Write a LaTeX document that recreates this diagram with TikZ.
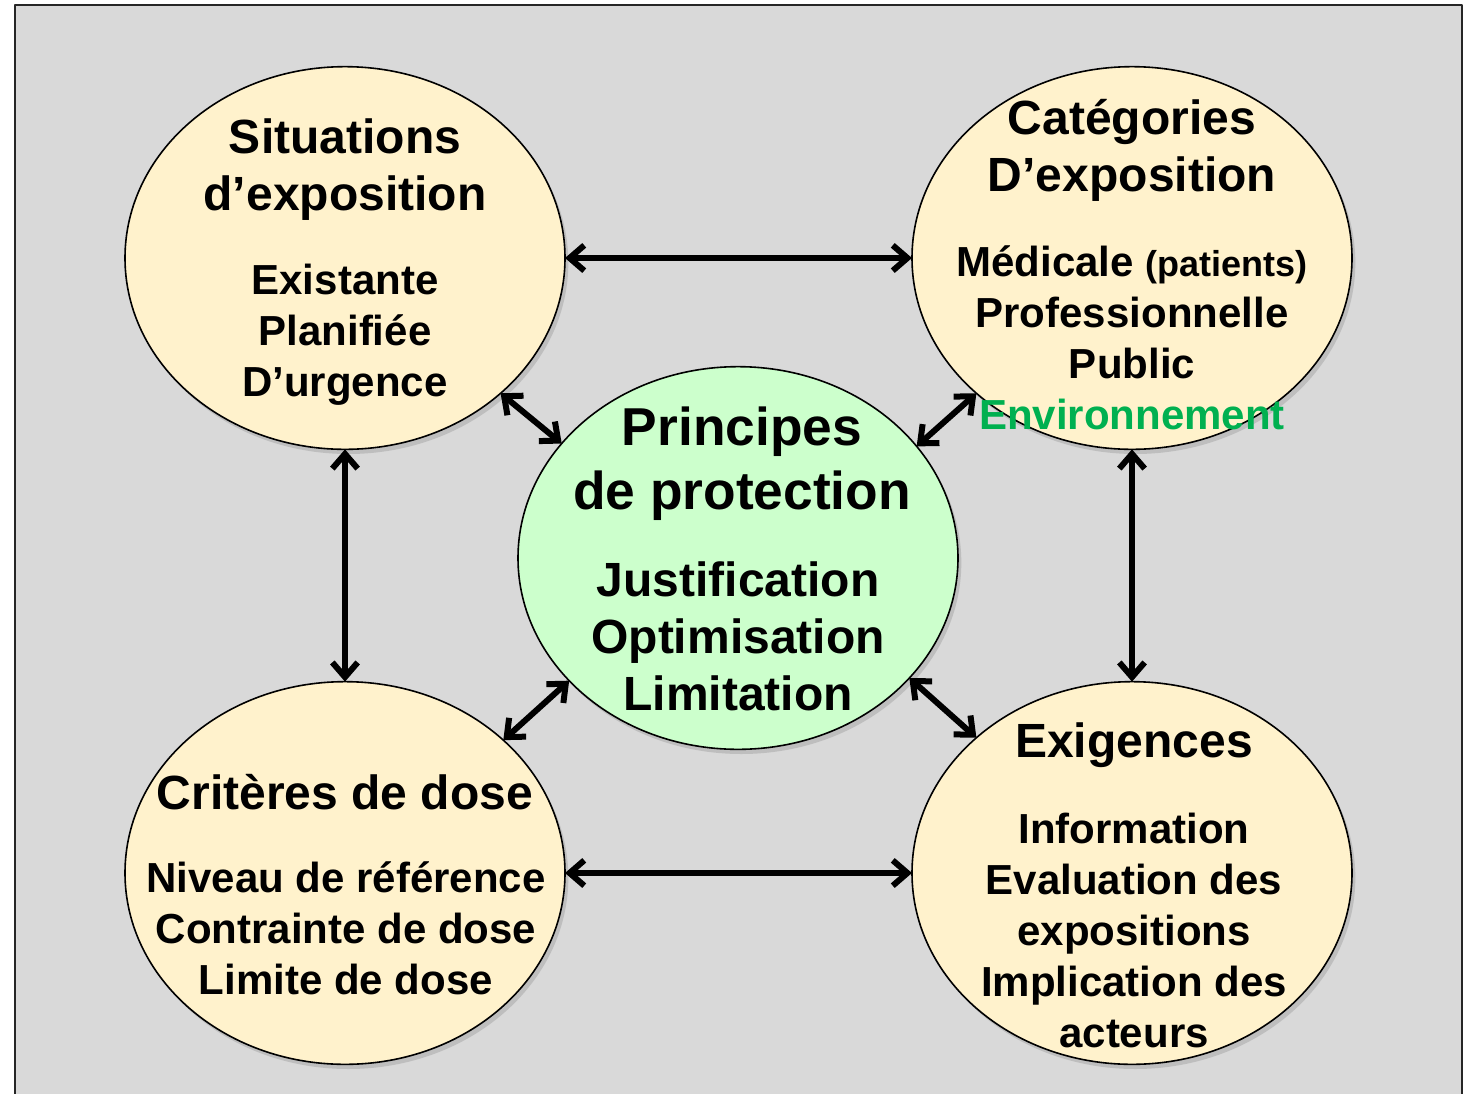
\documentclass[tikz,border=0pt]{standalone}
\usepackage{fontspec}
\setmainfont{Liberation Sans}
\usetikzlibrary{arrows.meta,shapes.geometric,shadows}
\definecolor{fond}{HTML}{D9D9D9}
\definecolor{creme}{HTML}{FFF2CC}
\definecolor{vertclair}{HTML}{CCFFCC}
\definecolor{vertenv}{HTML}{00B050}
\begin{document}
\begin{tikzpicture}[x=0.75pt, y=-0.75pt, line join=round, line cap=round,
	>={Straight Barb[length=11pt,width=19pt]},
	bulle/.style={ellipse, draw=black, line width=1.2pt, fill=creme,
		minimum width=330pt, minimum height=287pt, inner sep=0pt, outer sep=0pt,
		drop shadow={shadow xshift=2.5pt, shadow yshift=-3.5pt, opacity=0.3}},
	titre/.style={align=center, font=\bfseries\fontsize{36}{42.75}\selectfont},
	liste/.style={align=center, font=\bfseries\fontsize{31.5}{38.25}\selectfont},
	lien/.style={<->, line width=4.5pt}]
	% cadre gris
	\useasboundingbox (0,0) rectangle (1468,1093);
	\clip (0,0) rectangle (1468,1093);
	\fill[fond] (15,5) rectangle (1462,1120);
	\draw[line width=1.5pt, black!85] (15,1120)--(15,5)--(1462,5)--(1462,1120);
	% les cinq bulles
	\node[bulle] (sit) at (345,258) {};
	\node[bulle] (cat) at (1132,258) {};
	\node[bulle] (crit) at (345,873) {};
	\node[bulle] (exig) at (1132,873) {};
	\node[bulle, fill=vertclair] (prin) at (738,558) {};
	% textes
	\node[titre] (sit-t) at (345,170) {Situations\\d’exposition};
	\node[liste] (sit-l) at (345,335) {Existante\\Planifiée\\D’urgence};
	\node[titre] (cat-t) at (1132,150) {Catégories\\D’exposition};
	\node[liste] (cat-l) at (1132,338) {Médicale {\fontsize{27}{32}\selectfont(patients)}\\Professionnelle\\Public\\\textcolor{vertenv}{Environnement}};
	\node[titre, font=\bfseries\fontsize{40}{48}\selectfont] (prin-t) at (742,464) {Principes\\de protection};
	\node[titre] (prin-l) at (738,636) {Justification\\Optimisation\\Limitation};
	\node[titre] (crit-t) at (345,792) {Critères de dose};
	\node[liste] (crit-l) at (346,928) {Niveau de référence\\Contrainte de dose\\Limite de dose};
	\node[titre] (exig-t) at (1134,745) {Exigences};
	\node[liste] (exig-l) at (1134,930) {Information\\Evaluation des\\expositions\\Implication des\\acteurs};
	% liens
	\foreach \a/\b in {sit.east/cat.west, crit.east/exig.west, sit.south/crit.north, cat.south/exig.north,
		sit.-41/prin.147, cat.-139/prin.32, crit.40/prin.-144, exig.139/prin.-35}
		\draw[lien] (\a) -- (\b);
\end{tikzpicture}
\end{document}
